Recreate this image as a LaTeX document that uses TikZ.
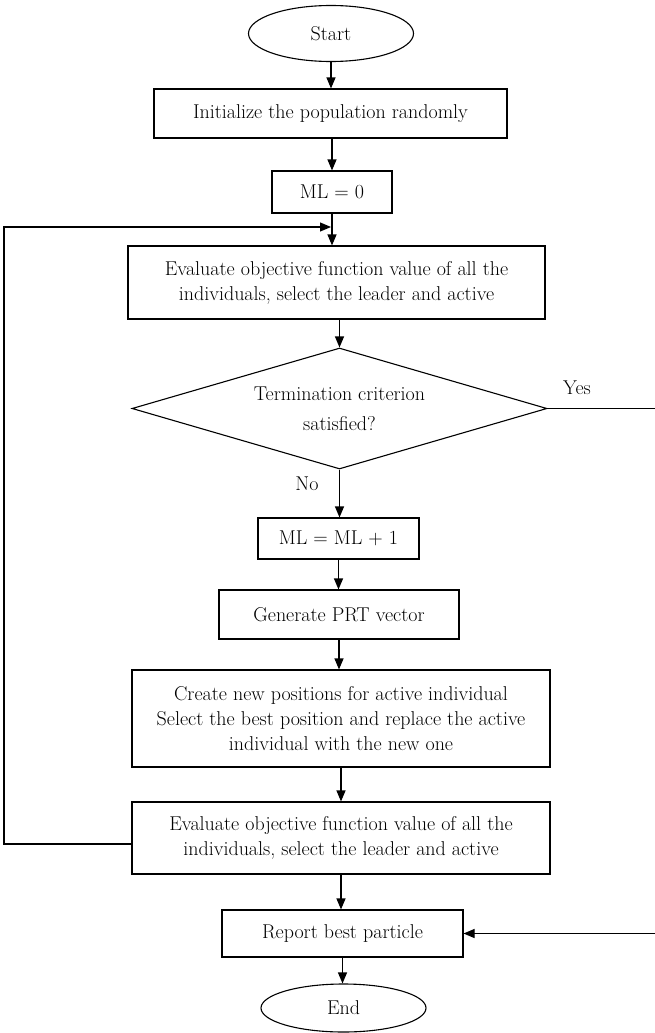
\documentclass[tikz,border=0pt]{standalone}
\usetikzlibrary{shapes.geometric,arrows.meta}
\begin{document}
\begin{tikzpicture}[x=1pt,y=-1pt,
  every node/.style={font=\fontsize{20}{25}\selectfont, align=center, inner sep=0pt},
  procbox/.style={draw, line width=1.1pt, rectangle},
  termbox/.style={draw, line width=1.1pt, ellipse},
  decbox/.style={draw, line width=1.1pt, diamond, shape aspect=3.43, font=\fontsize{20}{30}\selectfont},
  flow/.style={line width=1.1pt, -{Triangle[length=11pt,width=9pt]}},
  plain/.style={line width=1.1pt}]
\useasboundingbox (0,0) rectangle (654,1033);
\node[termbox, minimum width=165pt, minimum height=56pt] (start) at (331,33.5) {Start};
\node[procbox, minimum width=353pt, minimum height=49pt] (init) at (330.5,113.5) {Initialize the population randomly};
\node[procbox, minimum width=120pt, minimum height=42pt] (ml0) at (332,192) {ML = 0};
\node[procbox, minimum width=417pt, minimum height=73pt] (eval1) at (336.5,282.5) {Evaluate objective function value of all the\\individuals, select the leader and active};
\node[decbox, minimum width=415pt, minimum height=121pt] (dec) at (339.5,408.5) {Termination criterion\\satisfied?};
\node[procbox, minimum width=161pt, minimum height=41pt] (ml1) at (338.5,538.5) {ML = ML + 1};
\node[procbox, minimum width=240pt, minimum height=49pt] (gen) at (339,614.5) {Generate PRT vector};
\node[procbox, minimum width=418pt, minimum height=97pt] (create) at (341,718.5) {Create new positions for active individual\\Select the best position and replace the active\\individual with the new one};
\node[procbox, minimum width=418pt, minimum height=72pt] (eval2) at (341,838) {Evaluate objective function value of all the\\individuals, select the leader and active};
\node[procbox, minimum width=241pt, minimum height=47pt] (report) at (342.5,933.5) {Report best particle};
\node[termbox, minimum width=165pt, minimum height=48pt] (end) at (343.5,1008) {End};
\node (yes) at (577,388) {Yes};
\node (no) at (307,484) {No};
\coordinate (loopin) at (331,227);
\coordinate (yesout) at (657,408.5);
\draw[flow] (start.south) -- (start.south |- init.north);
\draw[flow] (init.south -| ml0.north) -- (ml0.north);
\draw[flow] (ml0.south) -- (ml0.south |- eval1.north);
\draw[flow] (eval1.south -| dec.north) -- (dec.north);
\draw[flow] (dec.south) -- (dec.south |- ml1.north);
\draw[flow] (ml1.south) -- (ml1.south |- gen.north);
\draw[flow] (gen.south) -- (gen.south |- create.north);
\draw[flow] (create.south) -- (create.south |- eval2.north);
\draw[flow] (eval2.south) -- (eval2.south |- report.north);
\draw[flow] (report.south) -- (report.south |- end.north);
\draw[flow] (eval2.west |- 0,844) -- (4,844) -- (4,227) -- (loopin);
\draw[flow] (dec.east) -- (yesout) |- (report.east);
\end{tikzpicture}
\end{document}
